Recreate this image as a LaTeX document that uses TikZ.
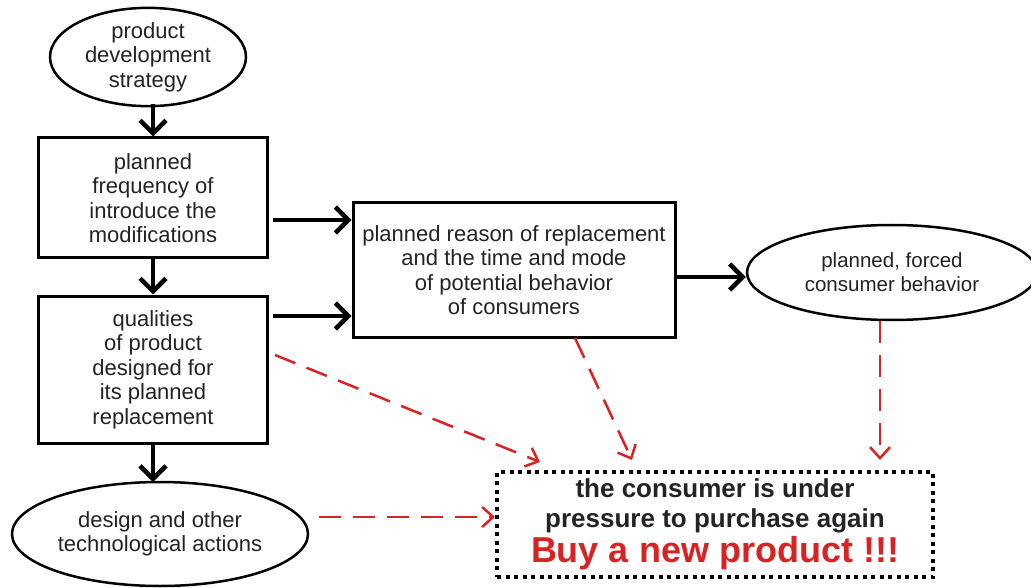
\documentclass[tikz,border=0pt]{standalone}
\usepackage{fontspec}
\setmainfont{Liberation Sans}
\usetikzlibrary{arrows.meta,shapes.geometric}
\definecolor{myred}{RGB}{215,35,35}
\definecolor{txt}{RGB}{35,35,35}
\tikzset{
  x=1pt,y=-1pt,
  every node/.style={text=txt},
  boxnode/.style={draw=black,line width=3pt,align=center,inner sep=0pt,font=\fontsize{22}{24.5}\selectfont},
  ellnode/.style={draw=black,line width=2.5pt,ellipse,align=center,inner sep=0pt,font=\fontsize{22}{24.5}\selectfont},
  blk/.style={line width=4.5pt,-{Straight Barb[length=13pt,width=26pt,line width=4.5pt]}},
  redarr/.style={draw=myred,line width=2.5pt,dash pattern=on 22pt off 12pt,-{Straight Barb[length=11pt,width=20pt,line width=2.5pt]}}
}
\begin{document}
\begin{tikzpicture}
\useasboundingbox (0,0) rectangle (1031,588);
\node[ellnode,minimum width=196pt,minimum height=94pt] (strat) at (148,57) {product\\development\\strategy};
\node[boxnode,minimum width=229pt,minimum height=120pt] (freq) at (153,198) {planned\\frequency of\\introduce the\\modifications};
\node[boxnode,minimum width=229pt,minimum height=147pt] (qual) at (153,369.5) {qualities\\of product\\designed for\\its planned\\replacement};
\node[ellnode,minimum width=296pt,minimum height=104pt] (design) at (160,534) {design and other\\technological actions};
\node[boxnode,minimum width=322pt,minimum height=134pt] (reason) at (514,270) {planned reason of replacement\\and the time and mode\\of potential behavior\\of consumers};
\node[ellnode,minimum width=290pt,minimum height=95pt,font=\fontsize{20.5}{24}\selectfont] (forced) at (892,272.5) {planned, forced\\consumer behavior};
\node[draw=black,line width=4pt,dash pattern=on 4pt off 4.5pt,minimum width=436pt,minimum height=105pt,align=center,inner sep=0pt,font=\fontsize{26}{30}\selectfont\bfseries] (press) at (715,524.5) {the consumer is under\\pressure to purchase again\\[2pt]{\fontsize{36}{36}\selectfont\color{myred}Buy a new product !!!}};
\coordinate (a1) at (153,104);
\draw[blk] (a1) -- (freq.north);
\draw[blk] (freq.south) -- (qual.north);
\coordinate (a3) at (153,482);
\draw[blk] (qual.south) -- (a3);
\draw[blk] (freq.east |- 0,220) ++(4,0) -- (reason.west |- 0,220);
\draw[blk] (qual.east |- 0,316) ++(4,0) -- (reason.west |- 0,316);
\draw[blk] (reason.east |- 0,277) -- (forced.west |- 0,277);
\coordinate (q1) at (275,355);
\coordinate (q2) at (540,462);
\draw[redarr] (q1) -- (q2);
\coordinate (r1) at (575,338);
\coordinate (r2) at (632,460);
\draw[redarr] (r1) -- (r2);
\coordinate (f2) at (880,460);
\draw[redarr] (forced.south -| f2) -- (f2);
\draw[redarr] (design.east |- 0,517) ++(10,0) -- (press.west |- 0,517);
\end{tikzpicture}
\end{document}
